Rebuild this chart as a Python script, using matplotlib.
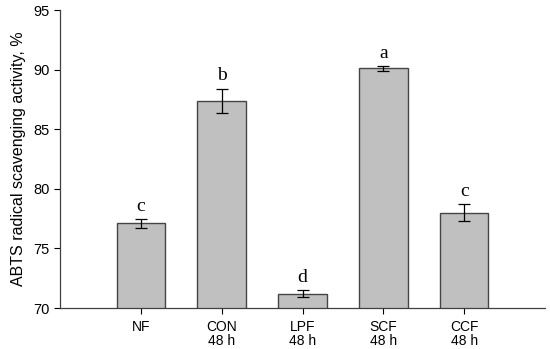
import matplotlib
matplotlib.use("Agg")
import matplotlib.pyplot as plt
import numpy as np

# Data
groups = ["NF", "CON\n48 h", "LPF\n48 h", "SCF\n48 h", "CCF\n48 h"]
means = [77.1, 87.4, 71.2, 90.1, 78.0]
errors = [0.35, 1.0, 0.3, 0.2, 0.73]
letters = ["c", "b", "d", "a", "c"]

plt.rcParams["font.family"] = ["Liberation Sans", "DejaVu Sans"]

fig = plt.figure(figsize=(5.5, 3.49), dpi=100)
ax = fig.add_axes([60 / 550, 1 - 308 / 349, 485 / 550, 298 / 349])

x = np.arange(1, len(groups) + 1)
ax.bar(x, means, width=0.6, color="#c0c0c0", edgecolor="#454545",
       linewidth=1.0, zorder=2)
ax.errorbar(x, means, yerr=errors, fmt="none", ecolor="black",
            elinewidth=0.9, capsize=4, capthick=0.9, zorder=3)

# Significance letters above the error bars
for xi, m, e, lab in zip(x, means, errors, letters):
    ax.text(xi, m + e + 0.35, lab, ha="center", va="bottom",
            fontsize=14, family="Liberation Serif")

ax.set_xlim(0, 6)
ax.set_ylim(70, 95)
ax.set_yticks([70, 75, 80, 85, 90, 95])
ax.set_xticks(x)
ax.set_xticklabels(groups, fontsize=10, linespacing=1.0)
ax.tick_params(axis="y", labelsize=10.5, direction="out", length=4, width=0.8)
ax.tick_params(axis="x", direction="out", length=4, width=0.8, pad=4.5)
ax.set_ylabel("ABTS radical scavenging activity, %", fontsize=11.5, labelpad=5)

for side in ["top", "right"]:
    ax.spines[side].set_visible(False)
for side in ["left", "bottom"]:
    ax.spines[side].set_color("#404040")
    ax.spines[side].set_linewidth(0.9)

fig.savefig("out.png", dpi=100)
